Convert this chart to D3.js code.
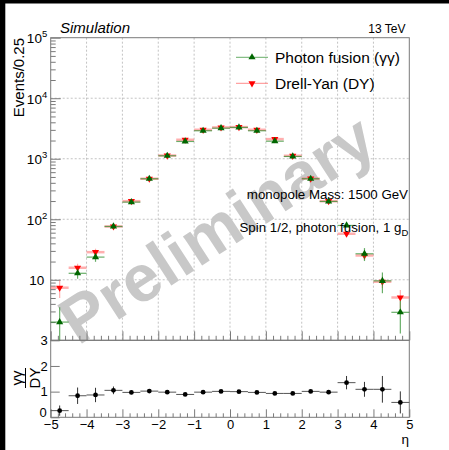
<!DOCTYPE html>
<html><head><meta charset="utf-8">
<script src="https://cdn.jsdelivr.net/npm/d3@7"></script>
<style>
body{margin:0;background:#fff}
svg{display:block}
text{font-family:"Liberation Sans",Arial,Helvetica,sans-serif;fill:#000}
</style></head><body>
<script>
// ---- data ----
const etaCenters = [-4.75,-4.25,-3.75,-3.25,-2.75,-2.25,-1.75,-1.25,-0.75,-0.25,0.25,0.75,1.25,1.75,2.25,2.75,3.25,3.75,4.25,4.75];
const binHalfWidth = 0.25;
const photonFusion = [2.0,12.8,23.7,76,192,467,1120,1930,2900,3200,3290,2900,1950,1090,467,197,79,26.9,9.6,2.9];
const photonErr    = [1.5,2.4,3.9,6,9,14,20,30,35,37,37,35,30,22,14,9,5,6.5,3.6,1.6];
const drellYan     = [7.4,15.8,28.6,76,199,467,1130,2060,3010,3290,3330,3010,2110,1120,470,199,57.6,25.2,9.3,5.1];
const drellYanErr  = [2.4,2.6,4,5,8,12,18,25,30,32,32,30,25,18,12,8,4.5,4,2,1.7];
const ratio        = [0.26,0.84,0.87,1.05,0.97,1.02,0.98,0.89,0.98,1.01,1.0,0.97,0.93,0.93,1.01,0.98,1.35,1.09,1.09,0.58];
const ratioErr     = [0.2,0.32,0.28,0.15,0.07,0.05,0.04,0.04,0.04,0.04,0.04,0.04,0.04,0.04,0.05,0.07,0.26,0.29,0.52,0.43];
const xMajorTicks = [-5,-4,-3,-2,-1,0,1,2,3,4,5];
const yDecades = [1e1,1e2,1e3,1e4,1e5];
const ratioTicks = [0,1,2,3];
const seriesNames = ["Photon fusion (γγ)","Drell-Yan (DY)"];

const W=449,H=450;
const L=50.7,R=409.3,T=37.7,MID=340.3,B=417.3;
const svg=d3.select("body").append("svg").attr("width",W).attr("height",H);
svg.append("rect").attr("width",W).attr("height",H).attr("fill","#fff");
// black canvas edge
svg.append("rect").attr("x",0).attr("y",0).attr("width",W).attr("height",3.5).attr("fill","#000");
svg.append("rect").attr("x",0).attr("y",0).attr("width",5.3).attr("height",H).attr("fill","#000");

const x=d3.scaleLinear().domain([-5,5]).range([L,R]);
const y=d3.scaleLog().domain([1,1e5]).range([MID,T]);
const yr=d3.scaleLinear().domain([0,3]).range([B,MID]);

const frameCol="#7a7a7a";
// grid
const grid=svg.append("g").attr("stroke","#b4b4b4").attr("stroke-dasharray","2,2").attr("stroke-width",0.8);
xMajorTicks.filter(v=>v>-5&&v<5).forEach(v=>grid.append("line").attr("x1",x(v)).attr("x2",x(v)).attr("y1",T).attr("y2",MID));
yDecades.filter(v=>v<1e5).forEach(v=>grid.append("line").attr("x1",L).attr("x2",R).attr("y1",y(v)).attr("y2",y(v)));

// watermark
svg.append("text").attr("transform","translate(229,248) rotate(-33)")
  .attr("text-anchor","middle").attr("font-size",66).attr("font-weight","bold")
  .style("fill","#c8c8c8").text("Preliminary");

// minor ticks arrays
const xMinor=d3.range(-50,51,2).map(v=>v/10).filter(v=>!xMajorTicks.includes(v));
const yMinor=[];
[1,10,100,1000,10000].forEach(d=>{for(let k=2;k<=9;k++)yMinor.push(d*k);});

function styleAxis(g){g.select(".domain").remove();g.selectAll("line").attr("stroke",frameCol);}

// upper x axis ticks (no labels)
svg.append("g").attr("transform",`translate(0,${MID})`).call(d3.axisBottom(x).tickValues(xMajorTicks).tickSize(-9).tickFormat("")).call(styleAxis);
svg.append("g").attr("transform",`translate(0,${MID})`).call(d3.axisBottom(x).tickValues(xMinor).tickSize(-4.5).tickFormat("")).call(styleAxis);
// upper y axis
const yAx=svg.append("g").attr("transform",`translate(${L},0)`)
  .call(d3.axisLeft(y).tickValues(yDecades).tickSize(-10).tickPadding(5).tickFormat(""));
styleAxis(yAx);
yAx.selectAll(".tick").each(function(d){
  const g=d3.select(this);
  const e=Math.round(Math.log10(d));
  const t=g.append("text").attr("text-anchor","end").attr("font-size",13.5).attr("y",5).attr("fill","#000");
  if(e===1){t.attr("x",-6.5).text("10");}
  else{t.attr("x",-3.5);t.append("tspan").text("10");t.append("tspan").attr("font-size",9.5).attr("dy",-6).text(e);}
});
svg.append("g").attr("transform",`translate(${L},0)`).call(d3.axisLeft(y).tickValues(yMinor).tickSize(-5).tickFormat("")).call(styleAxis);

// ratio x axis
const xr=svg.append("g").attr("transform",`translate(0,${B})`)
  .call(d3.axisBottom(x).tickValues(xMajorTicks).tickSize(-8).tickPadding(2).tickFormat(d3.format("d")));
styleAxis(xr);
xr.selectAll("text").attr("font-size",13).attr("fill","#000").style("font-family","'Liberation Sans',Arial,sans-serif");
svg.append("g").attr("transform",`translate(0,${B})`).call(d3.axisBottom(x).tickValues(xMinor).tickSize(-4).tickFormat("")).call(styleAxis);
// ratio y axis
const yrAx=svg.append("g").attr("transform",`translate(${L},0)`)
  .call(d3.axisLeft(yr).tickValues(ratioTicks).tickSize(-9).tickPadding(3).tickFormat(d3.format("d")));
styleAxis(yrAx);
yrAx.selectAll("text").attr("font-size",13).attr("fill","#000").style("font-family","'Liberation Sans',Arial,sans-serif");
yrAx.selectAll(".tick").filter(d=>d===0).select("text").attr("dy","-0.05em").attr("x",-4);

// frames
svg.append("rect").attr("x",L).attr("y",T).attr("width",R-L).attr("height",MID-T).attr("fill","none").attr("stroke",frameCol).attr("stroke-width",1);
svg.append("rect").attr("x",L).attr("y",MID).attr("width",R-L).attr("height",B-MID).attr("fill","none").attr("stroke",frameCol).attr("stroke-width",1);

// series drawing
const clipY=v=>Math.max(v,1);
function drawSeries(vals,errs,lineCol,markCol,up,hw){
  const g=svg.append("g");
  etaCenters.forEach((c,i)=>{
    const v=vals[i],e=errs[i];
    g.append("line").attr("x1",x(c-binHalfWidth)).attr("x2",x(c+binHalfWidth)).attr("y1",y(v)).attr("y2",y(v)).attr("stroke",lineCol).attr("stroke-width",hw);
    g.append("line").attr("x1",x(c)).attr("x2",x(c)).attr("y1",y(clipY(v-e))).attr("y2",y(v+e)).attr("stroke",lineCol).attr("stroke-width",1.2);
  });
  const sym=d3.symbol().type(d3.symbolTriangle).size(22);
  etaCenters.forEach((c,i)=>{
    g.append("path").attr("d",sym()).attr("transform",`translate(${x(c)},${y(vals[i])}) rotate(${up?0:180})`).attr("fill",markCol);
  });
}
drawSeries(drellYan,drellYanErr,"rgba(255,110,110,0.55)","#ff0000",false,2.5);
drawSeries(photonFusion,photonErr,"rgba(40,140,40,0.7)","#006600",true,1.2);

// ratio points
const rg=svg.append("g");
etaCenters.forEach((c,i)=>{
  rg.append("line").attr("x1",x(c-binHalfWidth)).attr("x2",x(c+binHalfWidth)).attr("y1",yr(ratio[i])).attr("y2",yr(ratio[i])).attr("stroke","#555").attr("stroke-width",1);
  rg.append("line").attr("x1",x(c)).attr("x2",x(c)).attr("y1",yr(ratio[i]-ratioErr[i])).attr("y2",yr(ratio[i]+ratioErr[i])).attr("stroke","#333").attr("stroke-width",1);
  rg.append("circle").attr("cx",x(c)).attr("cy",yr(ratio[i])).attr("r",2.4).attr("fill","#000");
});

// legend
const leg=[{name:seriesNames[0],line:"rgba(40,140,40,0.7)",mark:"#006600",up:true,yy:57.3},
           {name:seriesNames[1],line:"rgba(255,110,110,0.8)",mark:"#ff0000",up:false,yy:83.3}];
leg.forEach(d=>{
  svg.append("line").attr("x1",236).attr("x2",268).attr("y1",d.yy).attr("y2",d.yy).attr("stroke",d.line).attr("stroke-width",1);
  svg.append("path").attr("d",d3.symbol().type(d3.symbolTriangle).size(22)()).attr("transform",`translate(252,${d.yy}) rotate(${d.up?0:180})`).attr("fill",d.mark);
  svg.append("text").attr("x",275).attr("y",d.yy+5.5).attr("font-size",15.5).text(d.name);
});

// texts
svg.append("text").attr("x",60).attr("y",33).attr("font-size",15).attr("font-style","italic").text("Simulation");
svg.append("text").attr("x",405.5).attr("y",32.7).attr("font-size",12).attr("text-anchor","end").text("13 TeV");
svg.append("text").attr("transform","translate(24,38) rotate(-90)").attr("text-anchor","end").attr("font-size",15).text("Events/0.25");
svg.append("text").attr("x",408).attr("y",198.5).attr("font-size",13.3).attr("text-anchor","end").text("monopole Mass: 1500 GeV");
const sp=svg.append("text").attr("x",239.5).attr("y",232).attr("font-size",13.3);
sp.append("tspan").text("Spin 1/2, photon fusion, 1 g");
sp.append("tspan").attr("font-size",9.5).attr("dy",4).text("D");
svg.append("text").attr("x",409).attr("y",443.5).attr("font-size",13.5).attr("text-anchor","end").text("η");
// ratio label as fraction
const fr=svg.append("g").attr("transform","translate(25.5,378) rotate(-90)");
fr.append("text").attr("x",0).attr("y",-4).attr("text-anchor","middle").attr("font-size",15).text("γγ");
fr.append("line").attr("x1",-10).attr("x2",10).attr("y1",0).attr("y2",0).attr("stroke","#000").attr("stroke-width",1);
fr.append("text").attr("x",0).attr("y",14.5).attr("text-anchor","middle").attr("font-size",15).text("DY");
</script>
</body></html>
